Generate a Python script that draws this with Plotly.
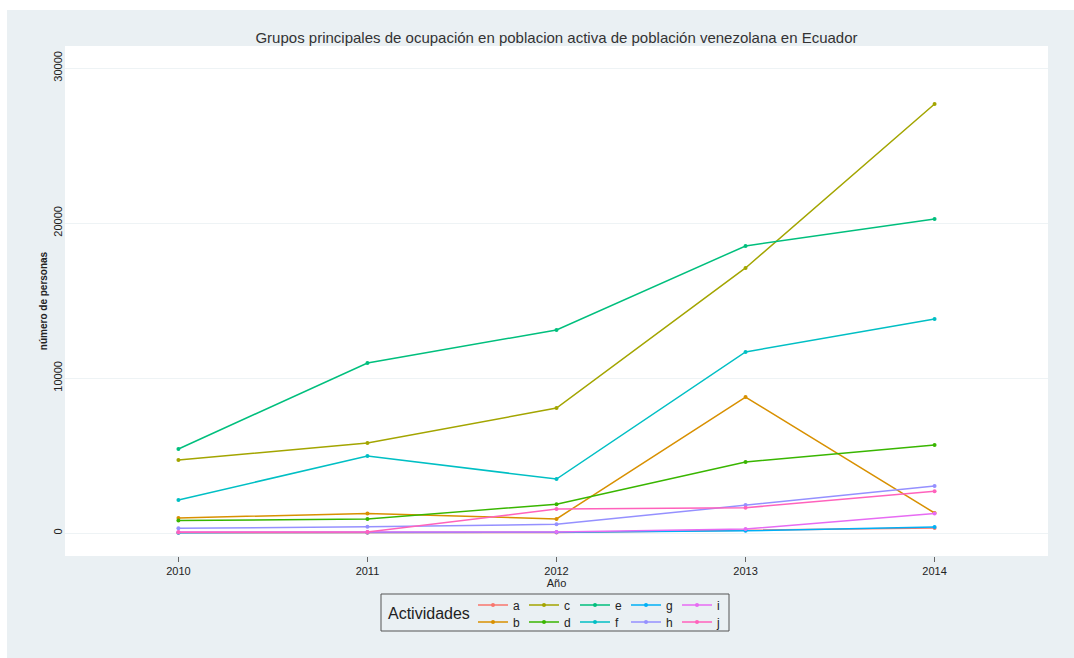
import plotly.graph_objects as go

years = [2010, 2011, 2012, 2013, 2014]
actividades = ["a", "b", "c", "d", "e", "f", "g", "h", "i", "j"]
serie_a = [10, 10, 30, 180, 330]
serie_b = [970, 1260, 910, 8770, 1290]
serie_c = [4710, 5800, 8060, 17100, 27680]
serie_d = [800, 900, 1860, 4580, 5680]
serie_e = [5420, 10970, 13100, 18520, 20260]
serie_f = [2130, 4970, 3480, 11680, 13810]
serie_g = [20, 30, 50, 140, 380]
serie_h = [300, 400, 560, 1800, 3030]
serie_i = [70, 70, 60, 260, 1250]
serie_j = [50, 60, 1550, 1630, 2690]
colores = ["#F8766D", "#D89000", "#A3A500", "#39B600", "#00BF7D",
           "#00BFC4", "#00B0F6", "#9590FF", "#E76BF3", "#FF62BC"]
y_ticks = [0, 10000, 20000, 30000]
y_labels = ["0", "10000", "20000", "30000"]

series = [serie_a, serie_b, serie_c, serie_d, serie_e,
          serie_f, serie_g, serie_h, serie_i, serie_j]

FONT = "Liberation Sans, Arial, sans-serif"
PANEL = "#EAF0F3"

fig = go.Figure()
for k, (name, vals, col) in enumerate(zip(actividades, series, colores)):
    fig.add_trace(go.Scatter(
        x=years, y=vals, name=name, mode="lines+markers",
        line=dict(color=col, width=1.5),
        marker=dict(color=col, size=4),
        legend="legend" if k % 2 == 0 else "legend2",
    ))

W, H = 1074, 658
L, R, T, B = 65, 26, 46, 102
pw, ph = W - L - R, H - T - B


def px(xp):
    return (xp - L) / pw


def py(yp):
    return (H - B - yp) / ph


legend_common = dict(
    orientation="h", xanchor="left", yanchor="middle",
    bgcolor="rgba(0,0,0,0)", font=dict(family=FONT, size=12, color="#222"),
    itemwidth=30, entrywidth=6, entrywidthmode="pixels",
    tracegroupgap=0, itemclick=False,
)

fig.update_layout(
    width=W, height=H,
    margin=dict(l=L, r=R, t=T, b=B),
    paper_bgcolor=PANEL, plot_bgcolor="white",
    font=dict(family=FONT, size=11, color="#222"),
    title=dict(
        text="Grupos principales de ocupación en poblacion activa de población venezolana en Ecuador",
        x=0.5, xref="paper", xanchor="center", y=1 - 38 / H, yanchor="middle",
        font=dict(family=FONT, size=15, color="#333"),
    ),
    xaxis=dict(
        range=[2009.40, 2014.60], tickvals=years, ticks="outside", ticklen=5,
        tickcolor="#666", showgrid=False, zeroline=False, showline=False,
        tickfont=dict(size=11, color="#222"),
        title=dict(text="Año", font=dict(size=11, color="#222"), standoff=0),
    ),
    yaxis=dict(
        range=[-1484, 31420], tickvals=y_ticks, ticktext=y_labels, tickangle=-90, ticks="",
        showgrid=True, gridcolor="#EEF3F5", gridwidth=1, zeroline=False,
        showline=False, tickfont=dict(size=11, color="#222"),
        title=dict(text="<b>número de personas</b>", font=dict(size=10, color="#222"), standoff=2),
    ),
    legend=dict(x=px(473), y=py(605), **legend_common),
    legend2=dict(x=px(473), y=py(622), **legend_common),
    showlegend=True,
)

# white strips outside the light panel
fig.add_shape(type="rect", xref="paper", yref="paper", x0=px(0), x1=px(W),
              y0=py(10), y1=py(0), fillcolor="white", line=dict(width=0), layer="below")
fig.add_shape(type="rect", xref="paper", yref="paper", x0=px(0), x1=px(7),
              y0=py(H), y1=py(0), fillcolor="white", line=dict(width=0), layer="below")

# legend frame and title
fig.add_shape(type="rect", xref="paper", yref="paper", x0=px(381), x1=px(729),
              y0=py(631), y1=py(594), fillcolor="rgba(0,0,0,0)",
              line=dict(color="#555", width=1))
fig.add_annotation(text="Actividades", xref="paper", yref="paper", x=px(386), y=py(613),
                   xanchor="left", yanchor="middle", showarrow=False,
                   font=dict(family=FONT, size=16, color="#222"))

fig.write_html("out.html")
